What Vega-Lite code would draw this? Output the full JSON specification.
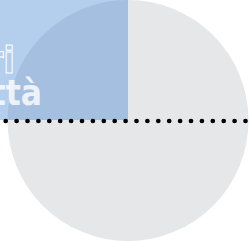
{
  "$schema": "https://vega.github.io/schema/vega-lite/v6.json",
  "width": 249,
  "height": 241,
  "autosize": {"type": "none"},
  "padding": 0,
  "background": "white",
  "config": {"view": {"stroke": null}},
  "datasets": {
    "circle": [{"cx": 128, "cy": 120.5}],
    "panel": [{"x0": 0, "x1": 128, "y0": 0, "y1": 120}],
    "labels": [
      {"tx": 15, "ty": 73, "text": "ri", "kind": "outline"},
      {"tx": 42, "ty": 105, "text": "ttà", "kind": "solid"}
    ],
    "line": [{"lx0": 0, "lx1": 249, "ly": 121}]
  },
  "layer": [
    {
      "data": {"name": "circle"},
      "mark": {"type": "point", "shape": "circle", "filled": true, "size": 58081, "color": "#e6e7e8", "opacity": 1},
      "encoding": {
        "x": {"field": "cx", "type": "quantitative", "scale": {"domain": [0, 249], "nice": false, "zero": false}, "axis": null},
        "y": {"field": "cy", "type": "quantitative", "scale": {"domain": [0, 241], "nice": false, "zero": false, "reverse": true}, "axis": null}
      }
    },
    {
      "data": {"name": "panel"},
      "mark": {"type": "rect", "color": "#3b7fd0", "opacity": 0.38},
      "encoding": {
        "x": {"field": "x0", "type": "quantitative"},
        "x2": {"field": "x1"},
        "y": {"field": "y0", "type": "quantitative"},
        "y2": {"field": "y1"}
      }
    },
    {
      "data": {"name": "labels"},
      "transform": [{"filter": "datum.kind === 'solid'"}],
      "mark": {"type": "text", "align": "right", "baseline": "alphabetic", "font": "DejaVu Sans Condensed, Roboto, sans-serif", "fontWeight": "bold", "fontSize": 35, "color": "#ffffff", "opacity": 0.8},
      "encoding": {
        "x": {"field": "tx", "type": "quantitative"},
        "y": {"field": "ty", "type": "quantitative"},
        "text": {"field": "text"}
      }
    },
    {
      "data": {"name": "labels"},
      "transform": [{"filter": "datum.kind === 'outline'"}],
      "mark": {"type": "text", "align": "right", "baseline": "alphabetic", "font": "DejaVu Sans Condensed, Roboto, sans-serif", "fontWeight": "bold", "fontSize": 38, "fill": "transparent", "stroke": "#ffffff", "strokeWidth": 1},
      "encoding": {
        "x": {"field": "tx", "type": "quantitative"},
        "y": {"field": "ty", "type": "quantitative"},
        "text": {"field": "text"}
      }
    },
    {
      "data": {"name": "line"},
      "mark": {"type": "rule", "color": "#000000", "strokeWidth": 4.7, "strokeCap": "round", "strokeDash": [0, 10.9], "strokeDashOffset": 5.2},
      "encoding": {
        "x": {"field": "lx0", "type": "quantitative"},
        "x2": {"field": "lx1"},
        "y": {"field": "ly", "type": "quantitative"}
      }
    }
  ]
}
